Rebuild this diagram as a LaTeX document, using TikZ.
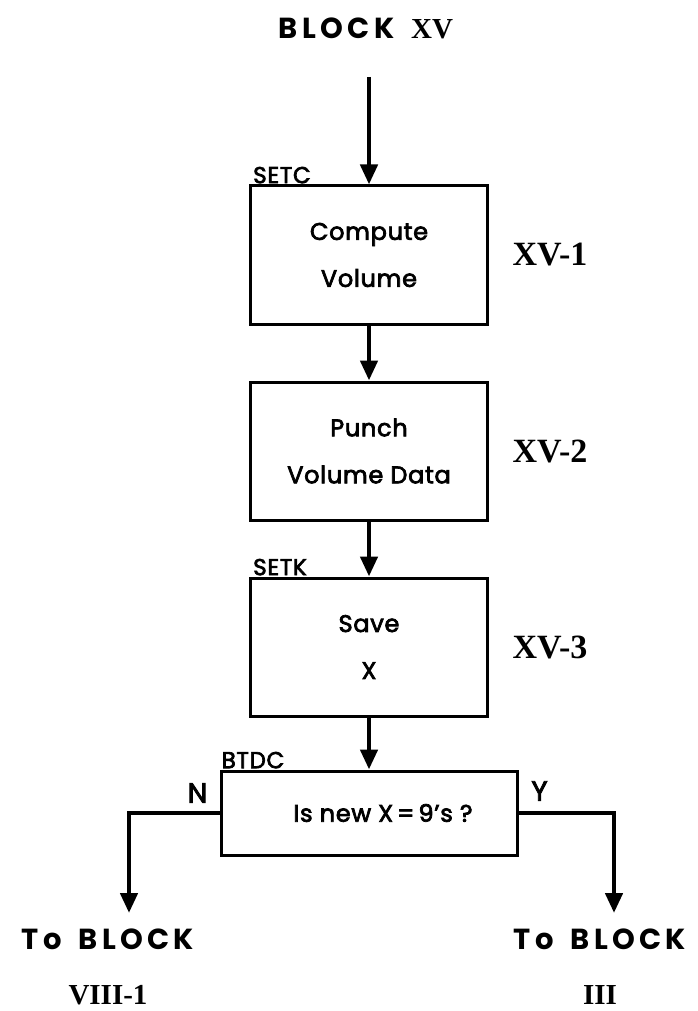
\documentclass[tikz,border=0pt]{standalone}
\usepackage{fontspec}
\setmainfont{Poppins}[FakeBold=3, LetterSpace=3]
\newfontfamily\wideface{Poppins}[LetterSpace=15, WordSpace=1.6]
\newfontfamily\numfont{Liberation Serif}
\usetikzlibrary{arrows.meta, positioning}
\tikzset{
  stepbox/.style={rectangle, draw, line width=3pt,
                   minimum width=237pt, minimum height=138pt,
                   font=\fontsize{24}{47}\selectfont, align=center},
  testbox/.style={rectangle, draw, line width=3pt,
                   minimum width=296pt, minimum height=84pt,
                   font=\fontsize{24}{28}\selectfont, align=center},
  tagtext/.style={font=\fontsize{23}{26}\selectfont, inner sep=1pt},
  codetext/.style={font=\fontsize{34}{40}\selectfont\numfont\bfseries},
  endtext/.style={font=\fontsize{29}{55}\selectfont\wideface\bfseries, align=center},
}

\begin{document}
\begin{tikzpicture}[x=1pt, y=-1pt,
    arr/.style={-{Triangle[length=20pt, width=17pt]}, line width=4.5pt},
    node distance=55pt]
  \useasboundingbox (0,0) rectangle (697,1011);
  \node[endtext] (title) at (366,28) {BLOCK {\numfont\bfseries XV}};
  \coordinate (start) at (369,77);
  \node[stepbox] (c1) at (369,255) {Compute\\Volume};
  \node[stepbox, below=of c1] (c2) {Punch\\Volume Data};
  \node[stepbox, below=of c2] (c3) {Save\\X};
  \node[testbox, below=52pt of c3] (test)
    {\hspace*{28pt}Is new X{\,}={\,}9's ?};
  % entry names
  \node[tagtext, anchor=south west] (setc) at ([xshift=3pt]c1.north west) {SETC};
  \node[tagtext, anchor=south west] (setk) at ([xshift=3pt]c3.north west) {SETK};
  \node[tagtext, anchor=south west] (btdc) at ([xshift=1pt]test.north west) {BTDC};
  % step numbers
  \node[codetext, right=20pt of c1] (n1) {XV-1};
  \node[codetext, right=20pt of c2] (n2) {XV-2};
  \node[codetext, right=20pt of c3] (n3) {XV-3};
  % exits
  \node[tagtext, font=\fontsize{28}{30}\selectfont] (nlab)
    at ([xshift=-22pt, yshift=20pt]test.west) {N};
  \node[tagtext, font=\fontsize{28}{30}\selectfont] (ylab)
    at ([xshift=21pt, yshift=22pt]test.east) {Y};
  \node[endtext] (noblock) at (108,967) {To BLOCK\\{\numfont\bfseries VIII-1}};
  \node[endtext] (yesblock) at (600,967) {To BLOCK\\{\numfont\bfseries III}};
  \coordinate (nend) at (129,913);
  \coordinate (yend) at (614,913);
  \draw[arr] (start) -- (c1);
  \draw[arr] (c1) -- (c2);
  \draw[arr] (c2) -- (c3);
  \draw[arr] (c3) -- (test);
  \draw[arr] (test.west) -| (nend);
  \draw[arr] (test.east) -| (yend);
\end{tikzpicture}
\end{document}
